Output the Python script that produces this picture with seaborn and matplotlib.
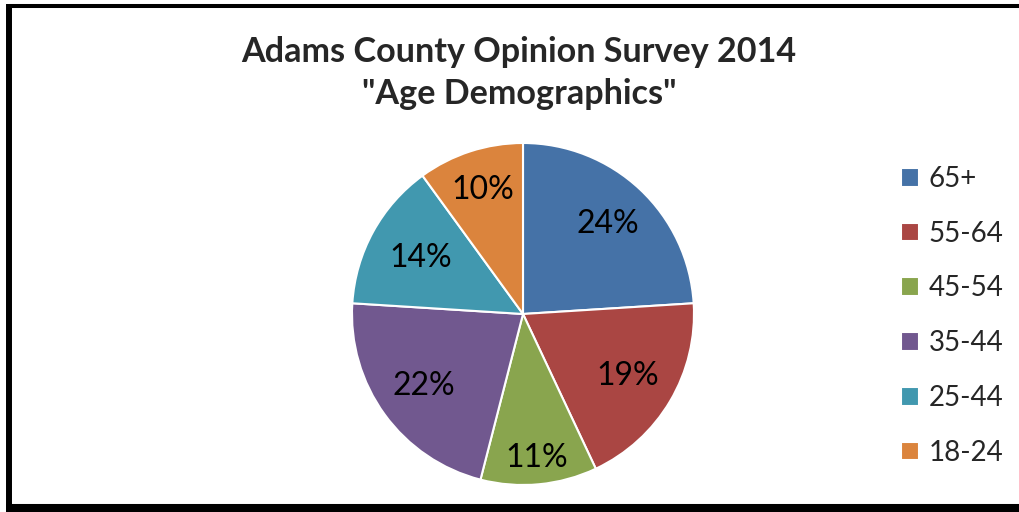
import matplotlib
matplotlib.use("Agg")
import matplotlib.pyplot as plt
import seaborn as sns
import numpy as np
from matplotlib.lines import Line2D

categories = ["65+", "55-64", "45-54", "35-44", "25-44", "18-24"]
shares = [24, 19, 11, 22, 14, 10]
colors = ["#4572A7", "#AA4643", "#89A54E", "#71588F", "#4198AF", "#DB843D"]
title_lines = ["Adams County Opinion Survey 2014", "\"Age Demographics\""]

# layout: radial position of each percent label (fraction of radius)
label_radius = [0.725, 0.71, 0.845, 0.72, 0.68, 0.765]

sns.set_theme(style="white")
plt.rcParams["font.family"] = ["Lato", "DejaVu Sans"]

W, H = 1019, 512
fig = plt.figure(figsize=(W / 100, H / 100), dpi=100)
fig.patch.set_facecolor("white")

cx, cy, r = 523, 314, 171
lim = 1.05
size = 2 * lim * r
ax = fig.add_axes([(cx - size / 2) / W, (H - cy - size / 2) / H, size / W, size / H])
wedges, _ = ax.pie(
    shares,
    colors=colors,
    startangle=90,
    counterclock=False,
    wedgeprops=dict(edgecolor="white", linewidth=1.5),
)
for w, v, lr in zip(wedges, shares, label_radius):
    ang = np.deg2rad((w.theta1 + w.theta2) / 2)
    ax.text(lr * np.cos(ang), lr * np.sin(ang), f"{v}%", ha="center", va="center",
            fontsize=23, color="black")
ax.set_xlim(-lim, lim)
ax.set_ylim(-lim, lim)
ax.set_aspect("equal")
ax.axis("off")

fig.text(519 / W, 1 - 73 / H, "\n".join(title_lines), ha="center", va="center",
         fontsize=24.6, fontweight="bold", linespacing=1.42)

fig.legend(wedges, categories, loc="upper left", bbox_to_anchor=(901 / W, 1 - 166 / H),
           frameon=False, fontsize=20, handlelength=0.65, handleheight=0.65,
           handletextpad=0.35, labelspacing=1.035, borderpad=0, borderaxespad=0)

# chart frame
fig.add_artist(Line2D([8.5 / W, 1], [1 - 5.5 / H, 1 - 5.5 / H], color="black", lw=2.9,
                      transform=fig.transFigure, solid_capstyle="butt"))
fig.add_artist(Line2D([8.5 / W, 8.5 / W], [1 - 3.5 / H, 1 - 508 / H], color="black", lw=4.3,
                      transform=fig.transFigure, solid_capstyle="butt"))
fig.add_artist(Line2D([6 / W, 1], [1 - 508 / H, 1 - 508 / H], color="black", lw=5.8,
                      transform=fig.transFigure, solid_capstyle="butt"))

fig.savefig("out.png", dpi=100, facecolor="white")
